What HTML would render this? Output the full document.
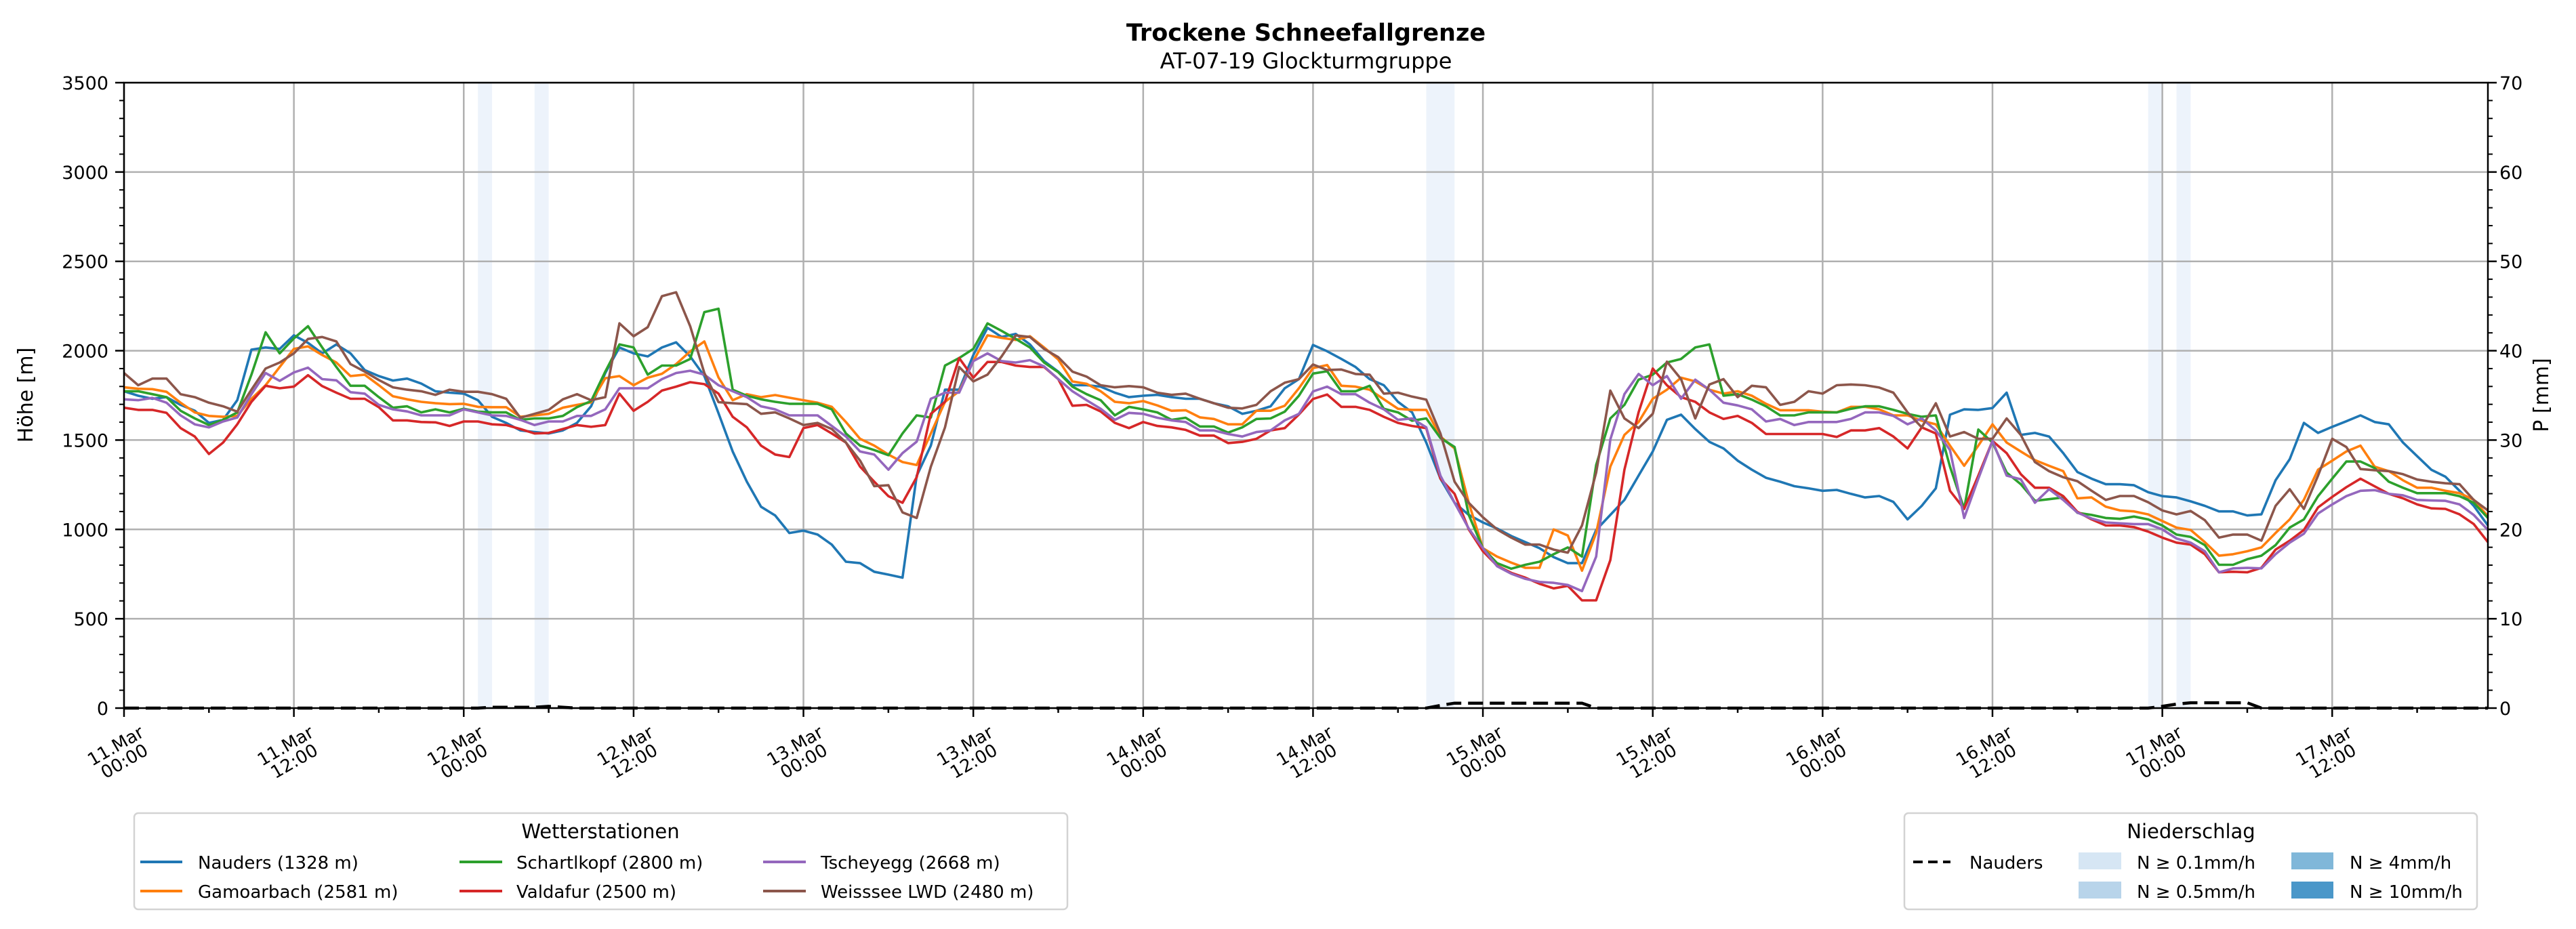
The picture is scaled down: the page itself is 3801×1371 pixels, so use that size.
<!DOCTYPE html>
<html><head><meta charset="utf-8"><title>Trockene Schneefallgrenze</title>
<style>
html,body{margin:0;padding:0;background:#fff;}
svg{display:block;font-family:"DejaVu Sans","Liberation Sans",sans-serif;}
</style></head>
<body>
<svg id="chart" xmlns="http://www.w3.org/2000/svg" width="3801" height="1371" viewBox="0 0 3801 1371">
<rect x="0" y="0" width="3801" height="1371" fill="#fff"/>
<text x="1927" y="60" text-anchor="middle" font-size="35" font-weight="bold">Trockene Schneefallgrenze</text>
<text x="1927" y="101" text-anchor="middle" font-size="32">AT-07-19 Glockturmgruppe</text>
<g id="bands"></g>
<g id="grid"></g>
<g id="series"></g>
<g id="axes"></g>
<text transform="translate(48,583) rotate(-90)" text-anchor="middle" font-size="30">Höhe [m]</text>
<text transform="translate(3760,583) rotate(-90)" text-anchor="middle" font-size="30">P [mm]</text>

<g>
<rect x="198" y="1200" width="1377" height="142" rx="6" fill="#fff" stroke="#d3d3d3" stroke-width="2.5"/>
<text x="886" y="1237" text-anchor="middle" font-size="29">Wetterstationen</text>
<g><line x1="207" y1="1272" x2="269" y2="1272" stroke="#1f77b4" stroke-width="4"/><text x="292" y="1282" font-size="26">Nauders (1328 m)</text></g>
<g><line x1="207" y1="1315" x2="269" y2="1315" stroke="#ff7f0e" stroke-width="4"/><text x="292" y="1325" font-size="26">Gamoarbach (2581 m)</text></g>
<g><line x1="678" y1="1272" x2="741" y2="1272" stroke="#2ca02c" stroke-width="4"/><text x="762" y="1282" font-size="26">Schartlkopf (2800 m)</text></g>
<g><line x1="678" y1="1315" x2="741" y2="1315" stroke="#d62728" stroke-width="4"/><text x="762" y="1325" font-size="26">Valdafur (2500 m)</text></g>
<g><line x1="1126" y1="1272" x2="1189" y2="1272" stroke="#9467bd" stroke-width="4"/><text x="1211" y="1282" font-size="26">Tscheyegg (2668 m)</text></g>
<g><line x1="1126" y1="1315" x2="1189" y2="1315" stroke="#8c564b" stroke-width="4"/><text x="1211" y="1325" font-size="26">Weisssee LWD (2480 m)</text></g>
</g>

<g>
<rect x="2810" y="1200" width="845" height="142" rx="6" fill="#fff" stroke="#d3d3d3" stroke-width="2.5"/>
<text x="3233" y="1237" text-anchor="middle" font-size="29">Niederschlag</text>
<g><line x1="2823" y1="1272" x2="2878" y2="1272" stroke="#000" stroke-width="4" stroke-dasharray="14,8"/><text x="2906" y="1282" font-size="26">Nauders</text></g>
<g><rect x="3067" y="1258" width="63" height="25" fill="#d6e6f4"/><text x="3153" y="1282" font-size="26">N ≥ 0.1mm/h</text></g>
<g><rect x="3067" y="1301" width="63" height="25" fill="#b8d4ea"/><text x="3153" y="1325" font-size="26">N ≥ 0.5mm/h</text></g>
<g><rect x="3381" y="1258" width="62" height="25" fill="#80b7d9"/><text x="3467" y="1282" font-size="26">N ≥ 4mm/h</text></g>
<g><rect x="3381" y="1301" width="62" height="25" fill="#4a97c9"/><text x="3467" y="1325" font-size="26">N ≥ 10mm/h</text></g>
</g>
</svg>
<script>
const nauders = [1773,1748,1731,1740,1697,1664,1596,1613,1723,2006,2018,2010,2086,2044,1985,2035,1985,1892,1858,1833,1844,1816,1773,1765,1760,1723,1630,1596,1554,1545,1537,1554,1596,1689,1875,2018,1985,1968,2018,2047,1968,1858,1650,1436,1267,1127,1078,980,993,971,915,819,811,763,747,730,1300,1469,1782,1782,1976,2128,2077,2094,2035,1942,1883,1807,1807,1799,1765,1740,1748,1753,1740,1731,1731,1706,1689,1647,1664,1689,1790,1841,2032,1997,1954,1909,1841,1807,1714,1655,1486,1284,1149,1081,1039,1005,963,929,895,845,811,811,997,1081,1165,1301,1436,1613,1642,1562,1490,1453,1385,1334,1289,1267,1242,1230,1216,1221,1199,1179,1187,1154,1056,1132,1230,1642,1672,1669,1679,1765,1529,1540,1520,1427,1321,1284,1253,1253,1247,1208,1186,1179,1157,1132,1101,1101,1078,1084,1275,1393,1596,1540,1574,1605,1638,1601,1588,1486,1410,1334,1295,1216,1132,1022];
const gamoarbach = [1795,1787,1785,1770,1709,1655,1635,1630,1635,1731,1807,1909,2010,2024,1976,1934,1858,1866,1807,1745,1728,1714,1706,1701,1703,1686,1684,1684,1630,1638,1647,1681,1697,1711,1846,1858,1807,1849,1871,1925,1996,2052,1850,1723,1757,1740,1752,1737,1723,1709,1686,1601,1507,1469,1419,1377,1360,1537,1714,1773,1942,2086,2072,2060,2081,2018,1951,1828,1815,1773,1714,1706,1718,1694,1664,1667,1627,1618,1588,1588,1664,1664,1692,1790,1903,1920,1804,1799,1782,1728,1675,1669,1669,1520,1453,1149,895,848,814,785,785,1000,966,769,980,1351,1529,1601,1731,1782,1849,1828,1782,1760,1773,1748,1703,1667,1667,1667,1659,1655,1686,1686,1672,1638,1638,1608,1588,1469,1356,1469,1588,1486,1436,1388,1356,1326,1174,1179,1127,1106,1101,1084,1047,1010,997,929,853,861,878,899,980,1056,1166,1334,1385,1436,1469,1351,1326,1275,1233,1233,1216,1203,1166,1073];
const schartlkopf = [1773,1773,1757,1740,1664,1621,1584,1613,1655,1866,2103,1985,2069,2137,2018,1909,1804,1804,1740,1681,1689,1655,1672,1655,1675,1659,1655,1655,1613,1621,1621,1635,1684,1718,1883,2035,2018,1866,1917,1917,1954,2216,2235,1782,1748,1728,1714,1703,1703,1703,1672,1537,1469,1444,1415,1537,1638,1626,1917,1959,2010,2153,2111,2066,2018,1934,1880,1799,1757,1723,1638,1686,1672,1655,1613,1625,1576,1576,1542,1571,1618,1621,1659,1748,1872,1885,1773,1773,1804,1675,1655,1608,1621,1512,1461,1081,895,811,780,802,819,861,899,848,1360,1621,1697,1838,1866,1934,1954,2018,2035,1748,1757,1726,1689,1638,1638,1655,1655,1655,1675,1689,1689,1669,1647,1630,1638,1351,1115,1559,1486,1318,1253,1160,1169,1179,1093,1081,1064,1059,1072,1056,1022,971,958,912,802,802,833,853,912,1010,1056,1186,1284,1380,1380,1343,1267,1233,1203,1203,1203,1186,1149,1064];
const valdafur = [1681,1669,1669,1652,1567,1520,1422,1486,1588,1714,1804,1790,1799,1863,1802,1765,1731,1731,1684,1610,1610,1601,1599,1579,1604,1604,1588,1584,1562,1537,1540,1562,1584,1574,1584,1760,1664,1714,1777,1799,1824,1813,1760,1630,1571,1469,1419,1405,1567,1584,1537,1486,1351,1267,1186,1149,1292,1647,1714,1959,1849,1937,1937,1917,1909,1909,1841,1692,1697,1660,1596,1567,1601,1579,1571,1557,1525,1525,1483,1490,1507,1554,1567,1643,1730,1755,1686,1686,1669,1630,1596,1579,1567,1284,1199,1000,878,797,757,730,696,670,684,603,603,828,1334,1655,1900,1807,1740,1714,1655,1618,1635,1596,1534,1534,1534,1534,1534,1517,1554,1554,1567,1520,1453,1571,1537,1216,1115,1301,1495,1427,1309,1233,1233,1186,1098,1056,1022,1022,1013,988,954,926,915,861,760,763,760,785,887,937,997,1123,1182,1236,1284,1241,1199,1174,1140,1118,1115,1084,1030,929];
const tscheyegg = [1728,1723,1736,1709,1638,1588,1571,1604,1626,1757,1875,1831,1878,1905,1841,1834,1768,1760,1697,1672,1660,1638,1638,1638,1672,1655,1638,1635,1613,1584,1604,1604,1635,1635,1672,1790,1790,1790,1841,1875,1888,1866,1807,1773,1740,1689,1672,1638,1638,1638,1579,1520,1436,1419,1334,1427,1491,1731,1765,1765,1942,1985,1942,1934,1947,1912,1841,1773,1723,1675,1613,1652,1647,1625,1610,1601,1554,1554,1534,1520,1545,1554,1610,1647,1772,1799,1757,1757,1709,1672,1613,1621,1571,1301,1149,1005,895,794,752,723,706,701,689,655,848,1503,1757,1870,1807,1858,1731,1838,1782,1709,1694,1672,1604,1618,1584,1601,1601,1601,1618,1655,1655,1635,1588,1621,1554,1444,1064,1284,1495,1301,1280,1149,1225,1165,1094,1061,1039,1034,1030,1030,1000,949,926,878,760,782,785,782,861,926,976,1089,1140,1186,1216,1220,1199,1191,1165,1162,1160,1140,1081,997];
const weisssee = [1875,1807,1844,1844,1757,1740,1709,1689,1659,1782,1900,1934,1985,2066,2077,2052,1925,1883,1836,1795,1782,1773,1753,1782,1770,1770,1757,1731,1625,1647,1669,1728,1757,1723,1740,2153,2081,2132,2305,2327,2137,1875,1712,1706,1701,1647,1655,1621,1584,1596,1562,1486,1385,1242,1247,1095,1064,1351,1571,1909,1828,1866,1968,2086,2077,2010,1964,1883,1855,1807,1795,1802,1795,1765,1753,1760,1731,1706,1681,1677,1697,1773,1821,1841,1923,1892,1895,1870,1866,1760,1765,1743,1726,1537,1267,1149,1068,1000,954,915,915,887,870,1022,1318,1777,1621,1567,1647,1939,1841,1621,1811,1841,1740,1804,1795,1697,1714,1773,1760,1807,1811,1807,1794,1765,1655,1571,1706,1520,1545,1507,1507,1621,1529,1377,1326,1292,1270,1216,1165,1187,1187,1152,1106,1084,1103,1052,954,971,971,937,1132,1225,1115,1301,1507,1461,1338,1331,1326,1309,1279,1267,1258,1253,1165,1106];
const stationNames = ["Nauders (1328 m)","Gamoarbach (2581 m)","Schartlkopf (2800 m)","Valdafur (2500 m)","Tscheyegg (2668 m)","Weisssee LWD (2480 m)"];
const precipHours = [0,25,26,29,30,31,32,92,93,94,103,104,143,144,145,146,150,151,167];
const precipValues = [0,0,0.1,0.1,0.2,0.1,0,0,0.3,0.55,0.55,0,0,0.2,0.45,0.6,0.6,0,0];
const bandStartHours = [25,29,92,143,145];
const bandEndHours = [26,30,94,144,146];
const xTickHours = [0,12,24,36,48,60,72,84,96,108,120,132,144,156];
const xTickDates = ["11.Mar","11.Mar","12.Mar","12.Mar","13.Mar","13.Mar","14.Mar","14.Mar","15.Mar","15.Mar","16.Mar","16.Mar","17.Mar","17.Mar"];
const xTickTimes = ["00:00","12:00","00:00","12:00","00:00","12:00","00:00","12:00","00:00","12:00","00:00","12:00","00:00","12:00"];
const yTicks = [0,500,1000,1500,2000,2500,3000,3500];
const y2Ticks = [0,10,20,30,40,50,60,70];

const NS = "http://www.w3.org/2000/svg";
const L = 183, R = 3671, T = 122, B = 1045;
const HMAX = 167, YMAX = 3500, PMAX = 70;
const xs = h => L + h / HMAX * (R - L);
const ys = v => B - v / YMAX * (B - T);
const ps = v => B - v / PMAX * (B - T);
function mk(tag, attrs, parent) {
  const e = document.createElementNS(NS, tag);
  for (const k in attrs) e.setAttribute(k, attrs[k]);
  parent.appendChild(e);
  return e;
}
const bandsG = document.getElementById('bands');
const gridG = document.getElementById('grid');
const seriesG = document.getElementById('series');
const axesG = document.getElementById('axes');

bandStartHours.forEach((s, i) => {
  const r = mk('rect', {x: xs(s), y: T, width: xs(bandEndHours[i]) - xs(s), height: B - T, fill: '#edf3fb'}, bandsG);
  
  
});
yTicks.forEach(v => {
  const g = mk('line', {x1: L, x2: R, y1: ys(v), y2: ys(v), stroke: '#b0b0b0', 'stroke-width': 2.5}, gridG);
  
  
});
xTickHours.forEach(h => {
  const g = mk('line', {x1: xs(h), x2: xs(h), y1: T, y2: B, stroke: '#b0b0b0', 'stroke-width': 2.5}, gridG);
  
  
});

const seriesData = [nauders, gamoarbach, schartlkopf, valdafur, tscheyegg, weisssee];
const colors = ['#1f77b4','#ff7f0e','#2ca02c','#d62728','#9467bd','#8c564b'];
seriesData.forEach((arr, i) => {
  const d = arr.map((v, h) => (h ? 'L' : 'M') + xs(h).toFixed(1) + ',' + ys(v).toFixed(1)).join('');
  const p = mk('path', {d: d, fill: 'none', stroke: colors[i], 'stroke-width': 3.6, 'stroke-linejoin': 'round'}, seriesG);
  
  
});
const pd = precipHours.map((h, i) => (i ? 'L' : 'M') + xs(h).toFixed(1) + ',' + ps(precipValues[i]).toFixed(1)).join('');
const pl = mk('path', {d: pd, fill: 'none', stroke: '#000', 'stroke-width': 4.5, 'stroke-dasharray': '22,10'}, seriesG);



const frame = mk('rect', {x: L, y: T, width: R - L, height: B - T, fill: 'none', stroke: '#000', 'stroke-width': 2.5}, axesG);



for (let v = 0; v <= YMAX; v += 100) {
  const major = v % 500 === 0;
  const t = mk('line', {x1: L, x2: L - (major ? 13 : 7), y1: ys(v), y2: ys(v), stroke: '#000', 'stroke-width': major ? 2.5 : 2}, axesG);
  
  
}
yTicks.forEach(v => {
  const t = mk('text', {x: 160, y: ys(v) + 10, 'text-anchor': 'end', 'font-size': 27}, axesG);
  t.textContent = v;
  
  
});
for (let v = 0; v <= PMAX; v += 2) {
  const major = v % 10 === 0;
  const t = mk('line', {x1: R, x2: R + (major ? 13 : 7), y1: ps(v), y2: ps(v), stroke: '#000', 'stroke-width': major ? 2.5 : 2}, axesG);
  
  
}
y2Ticks.forEach(v => {
  const t = mk('text', {x: 3688, y: ps(v) + 10, 'text-anchor': 'start', 'font-size': 27}, axesG);
  t.textContent = v;
  
  
});
for (let h = 0; h <= HMAX; h += 6) {
  const major = h % 12 === 0;
  const t = mk('line', {x1: xs(h), x2: xs(h), y1: B, y2: B + (major ? 13 : 7), stroke: '#000', 'stroke-width': 2.5}, axesG);
  
  
}
xTickHours.forEach((h, i) => {
  const g = mk('g', {transform: 'translate(' + (xs(h) - 6).toFixed(1) + ',1112) rotate(-30)'}, axesG);
  
  
  const t1 = mk('text', {x: 0, y: -4, 'text-anchor': 'middle', 'font-size': 26}, g);
  t1.textContent = xTickDates[i];
  const t2 = mk('text', {x: 0, y: 22, 'text-anchor': 'middle', 'font-size': 26}, g);
  t2.textContent = xTickTimes[i];
});
</script>
</body></html>
